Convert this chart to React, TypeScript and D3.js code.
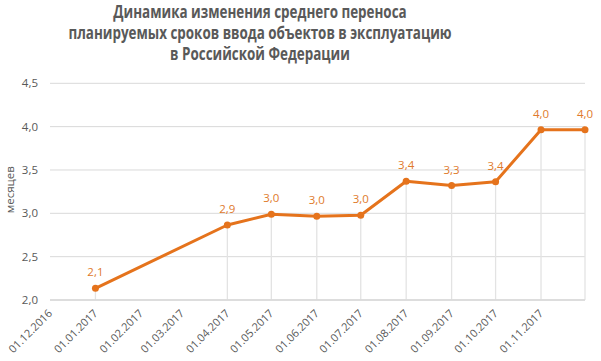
import React from "react";
import * as d3 from "d3";

const titleLines = [
  "Динамика изменения среднего переноса",
  "планируемых сроков ввода объектов в эксплуатацию",
  "в Российской Федерации",
];
const yAxisTitle = "месяцев";
const dates = [
  "2017-01-01", "2017-04-01", "2017-05-01", "2017-06-01", "2017-07-01",
  "2017-08-01", "2017-09-01", "2017-10-01", "2017-11-01", "2017-12-01",
];
const values = [2.135, 2.865, 2.989, 2.965, 2.977, 3.37, 3.32, 3.365, 3.965, 3.965];
const xTickLabels = [
  "2016-12-01", "2017-01-01", "2017-02-01", "2017-03-01", "2017-04-01", "2017-05-01",
  "2017-06-01", "2017-07-01", "2017-08-01", "2017-09-01", "2017-10-01", "2017-11-01",
];
const yTicks = [2.0, 2.5, 3.0, 3.5, 4.0, 4.5];

const W = 601, H = 361;
const left = 50, right = 585, top = 83.3, bottom = 300;

const parse = d3.utcParse("%Y-%m-%d");
const fmtDate = d3.utcFormat("%d.%m.%Y");
const fmtVal = (v: number) => v.toFixed(1).replace(".", ",");

export default function App() {
  const x = d3.scaleUtc().domain([parse("2016-12-01")!, parse("2017-12-01")!]).range([left, right]);
  const y = d3.scaleLinear().domain([2.0, 4.5]).range([bottom, top]);
  const pts = dates.map((d, i) => ({ x: x(parse(d)!), y: y(values[i]), v: values[i] }));
  const line = d3.line<{ x: number; y: number }>().x((d) => d.x).y((d) => d.y);
  const orange = "#E5731C";
  return (
    <svg width={W} height={H} style={{ position: "absolute", left: 0, top: 0, background: "#fff" }}
      fontFamily="'Open Sans', sans-serif">
      {titleLines.map((t, i) => (
        <text key={i} transform={`translate(260,${18 + i * 21}) scale(0.79,1)`} textAnchor="middle" fontSize={17}
          fontWeight="bold" fill="#595959" fontFamily="'Open Sans', sans-serif">{t}</text>
      ))}
      {yTicks.map((t) => (
        <g key={t}>
          <line x1={left} x2={right} y1={y(t)} y2={y(t)} stroke="#D9D9D9" strokeWidth={1} />
          <text x={38} y={y(t)} dy="0.35em" textAnchor="end" fontSize={11.5} fill="#595959">{fmtVal(t)}</text>
        </g>
      ))}
      <text transform={`translate(14,${(top + bottom) / 2 - 2}) rotate(-90)`} textAnchor="middle" fontSize={11.5}
        fill="#595959">{yAxisTitle}</text>
      {pts.map((p, i) => (
        <line key={i} x1={p.x} x2={p.x} y1={p.y} y2={bottom} stroke="#E3E3E3" strokeWidth={1.3} />
      ))}
      <line x1={left} x2={right} y1={bottom} y2={bottom} stroke="#D9D9D9" strokeWidth={1.3} />
      {xTickLabels.map((d) => {
        const xx = x(parse(d)!);
        return (
          <text key={d} transform={`translate(${xx + 3},${bottom + 14}) rotate(-45)`} textAnchor="end"
            fontSize={11} fill="#595959">{fmtDate(parse(d)!)}</text>
        );
      })}
      <path d={line(pts) || ""} fill="none" stroke={orange} strokeWidth={3} strokeLinejoin="round" />
      {pts.map((p, i) => (
        <g key={i}>
          <circle cx={p.x} cy={p.y} r={3.5} fill={orange} />
          <text x={p.x} y={p.y - 16} dy="0.35em" textAnchor="middle" fontSize={11.5} fill="#E07A2C">{fmtVal(p.v)}</text>
        </g>
      ))}
    </svg>
  );
}
